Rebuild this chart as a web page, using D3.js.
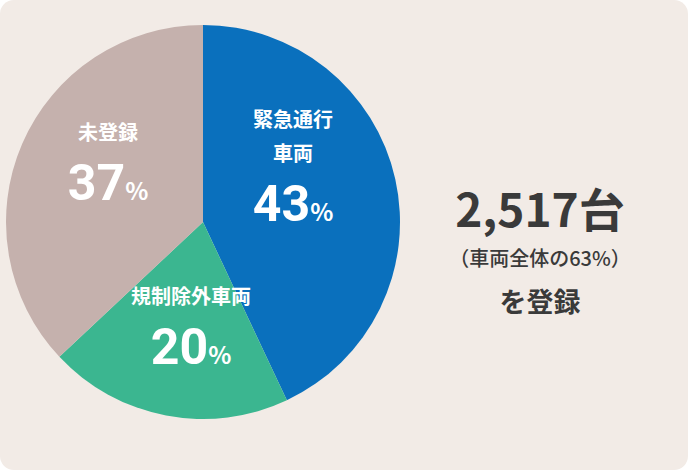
<!DOCTYPE html>
<html><head><meta charset="utf-8">
<script src="https://cdn.jsdelivr.net/npm/d3@7"></script>
<style>body{margin:0;background:#fff}svg{display:block}text{font-family:"Noto Sans CJK JP","Noto Sans",sans-serif}</style>
</head><body><svg id="c" width="688" height="470"></svg>
<script>
const categories = ["緊急通行車両", "規制除外車両", "未登録"];
const labelLines = [["緊急通行","車両"], ["規制除外車両"], ["未登録"]];
const values = [43, 20, 37];
const colors = ["#0a70bd", "#3bb690", "#c5b1ad"];
const totalLines = ["2,517台", "（車両全体の63%）", "を登録"];

const svg = d3.select("#c");
svg.append("rect").attr("width",688).attr("height",470).attr("rx",14).attr("fill","#f2ebe6");
const g = svg.append("g").attr("transform","translate(203,222)");
const R = 197;
const pie = d3.pie().sort(null).value(d=>d)(values);
const arc = d3.arc().innerRadius(0).outerRadius(R);
g.selectAll("path").data(pie).join("path").attr("d",arc).attr("fill",(d,i)=>colors[i]);

const labelPos = [[90,-95],[-12,82],[-95,-82]];
const lh = 34;
pie.forEach((d,i)=>{
  const [x,y] = labelPos[i];
  const lines = labelLines[i];
  lines.forEach((l,j)=>{
    g.append("text").attr("x",x).attr("y",y+j*lh).attr("text-anchor","middle")
      .attr("fill","#fff").attr("font-size",20).attr("font-weight",700).text(l);
  });
  const t = g.append("text").attr("x",x).attr("y",y+(lines.length-1)*lh+60)
    .attr("text-anchor","middle").attr("fill","#fff").attr("font-weight",700);
  t.append("tspan").attr("font-size",50).attr("font-family","Roboto, Arial, sans-serif").text(values[i]);
  t.append("tspan").attr("font-size",24).text("%");
});

const rg = svg.append("g");
rg.append("text").attr("x",540).attr("y",227).attr("text-anchor","middle").attr("fill","#3a3a3a")
  .attr("font-size",46).attr("font-weight",700).text(totalLines[0]);
rg.append("text").attr("x",540).attr("y",266).attr("text-anchor","middle").attr("fill","#3a3a3a")
  .attr("font-size",20).attr("font-weight",500).text(totalLines[1]);
rg.append("text").attr("x",540).attr("y",312).attr("text-anchor","middle").attr("fill","#3a3a3a")
  .attr("font-size",27).attr("font-weight",700).text(totalLines[2]);
</script></body></html>
